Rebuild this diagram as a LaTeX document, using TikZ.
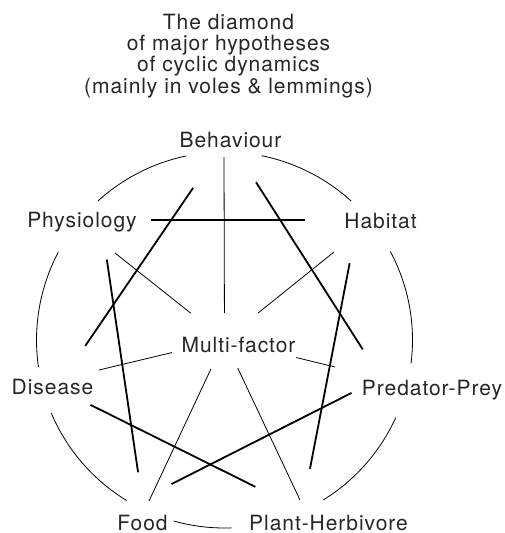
\documentclass[tikz,border=0pt]{standalone}
\usepackage{fontspec}
\setmainfont{TeX Gyre Heros}[LetterSpace=4.5]

\begin{document}
\begin{tikzpicture}[x=1pt, y=-1pt,
        hyp/.style={font=\fontsize{21}{21.2}\selectfont, text=black!85, inner sep=0pt, anchor=base},
        rim/.style={line width=0.8pt},
        spoke/.style={line width=0.8pt},
        heavy/.style={line width=1.8pt}]
        \useasboundingbox (0,0) rectangle (504,533);

        % Title
        \node (title) [hyp, anchor=center, align=center] at (228.5,56) {The diamond\\of major hypotheses\\of cyclic dynamics\\(mainly in voles \& lemmings)};

        % Hypotheses
        \node (behaviour) [hyp] at (230.5,147) {Behaviour};
        \node (physiology) [hyp] at (82,227.5) {Physiology};
        \node (habitat) [hyp] at (380.5,228.5) {Habitat};
        \node (disease) [hyp] at (52.5,394.5) {Disease};
        \node (predator) [hyp] at (432,395) {Predator-Prey};
        \node (food) [hyp] at (142.5,530) {Food};
        \node (plant) [hyp] at (328.5,530) {Plant-Herbivore};
        \node (multi) [hyp] at (238.5,352.5) {Multi-factor};

        % Hub, spoke tips and star corners
        \coordinate (hub) at (224.5,340);
        \coordinate (behaviour tip) at (224,157);
        \coordinate (physiology tip) at (115,253);
        \coordinate (habitat tip) at (334,252);
        \coordinate (disease tip) at (99,370);
        \coordinate (predator tip) at (335,367);
        \coordinate (food tip) at (149,501);
        \coordinate (plant tip) at (300,500);

        \coordinate (behaviour star) at (227.5,137.5);
        \coordinate (physiology star) at (101,220);
        \coordinate (habitat star) at (358,220);
        \coordinate (disease star) at (56.5,388);
        \coordinate (predator star) at (381,378);
        \coordinate (food star) at (142,499);
        \coordinate (plant star) at (302,510);

        % Rim
        \draw[rim] (hub) ++(101.7:188pt) arc[start angle=101.7, end angle=132.2, radius=188pt];
        \draw[rim] (hub) ++(78.6:188pt) arc[start angle=78.6, end angle=47.6, radius=188pt];
        \draw[rim] (hub) ++(152.2:188pt) arc[start angle=152.2, end angle=188.3, radius=188pt];
        \draw[rim] (hub) ++(28.1:188pt) arc[start angle=28.1, end angle=-7.1, radius=188pt];
        \draw[rim] (hub) ++(202.9:188pt) arc[start angle=202.9, end angle=238.7, radius=188pt];
        \draw[rim] (hub) ++(-24.4:188pt) arc[start angle=-24.4, end angle=-58.3, radius=188pt];
        \draw[rim] (hub) ++(254.3:188pt) arc[start angle=254.3, end angle=272.1, radius=188pt];

        % Spokes
        \draw[spoke, shorten <=27pt] (hub) -- (behaviour tip);
        \draw[spoke, shorten <=43pt] (hub) -- (physiology tip);
        \draw[spoke, shorten <=43pt] (hub) -- (habitat tip);
        \draw[spoke, shorten <=54pt] (hub) -- (disease tip);
        \draw[spoke, shorten <=74pt] (hub) -- (predator tip);
        \draw[spoke, shorten <=32pt] (hub) -- (food tip);
        \draw[spoke, shorten <=31pt] (hub) -- (plant tip);

        % Star
        \draw[heavy, shorten <=61pt, shorten >=51pt] (behaviour star) -- (disease star);
        \draw[heavy, shorten <=53pt, shorten >=34pt] (behaviour star) -- (predator star);
        \draw[heavy, shorten <=50pt, shorten >=53pt] (physiology star) -- (habitat star);
        \draw[heavy, shorten <=40pt, shorten >=27pt] (physiology star) -- (food star);
        \draw[heavy, shorten <=44pt, shorten >=42pt] (habitat star) -- (plant star);
        \draw[heavy, shorten <=38pt, shorten >=52pt] (disease star) -- (plant star);
        \draw[heavy, shorten <=33pt, shorten >=33pt] (predator star) -- (food star);
    \end{tikzpicture}
\end{document}
